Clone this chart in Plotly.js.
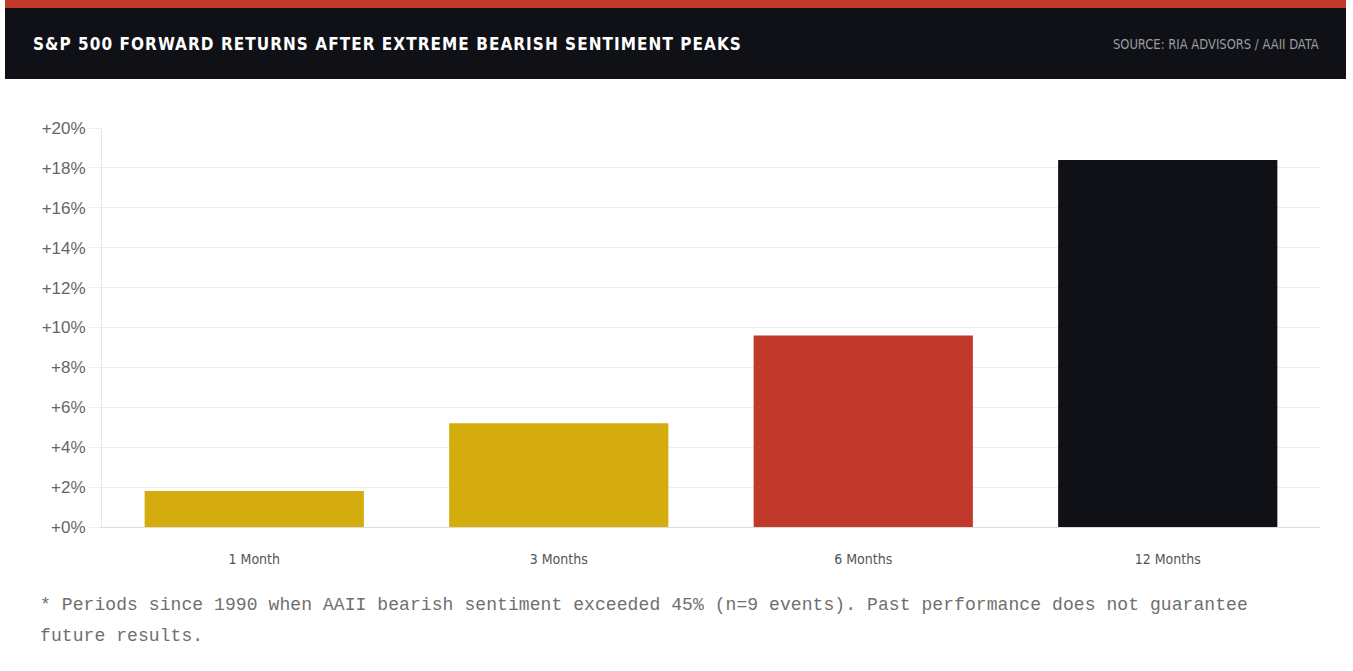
<!DOCTYPE html>
<html>
<head>
<meta charset="utf-8">
<script src="https://cdn.plot.ly/plotly-3.0.1.min.js"></script>
<style>
  html, body { margin: 0; padding: 0; background: #ffffff; }
  #wrap { position: relative; width: 1353px; height: 671px; overflow: hidden; background: #fff; }
  #chart { position: absolute; left: 0; top: 0; width: 1353px; height: 671px; }
  #stripe { position: absolute; left: 5px; top: 0; width: 1341px; height: 8px; background: #C0392B; }
  #header { position: absolute; left: 5px; top: 8px; width: 1341px; height: 71px; background: #0F1117; }
  #title { position: absolute; left: 28px; top: 0; height: 71px; line-height: 73px; color: #ffffff;
           font-family: "DejaVu Sans Condensed", "Liberation Sans Narrow", "DejaVu Sans", sans-serif;
           font-weight: bold; font-size: 17px; letter-spacing: 1.05px; white-space: nowrap; }
  #source { position: absolute; right: 27px; top: 0; height: 71px; line-height: 73px; color: #9a9ca0;
            font-family: "DejaVu Sans Condensed", sans-serif;
            font-size: 14px; white-space: nowrap; transform: scaleX(0.92); transform-origin: right center; }
  #note { position: absolute; left: 40px; top: 590px; width: 1270px; color: #6f6f6f;
          font-family: "Liberation Mono", "DejaVu Sans Mono", monospace; font-size: 18px; letter-spacing: 0.08px; line-height: 31px; }
</style>
</head>
<body>
<div id="wrap">
  <div id="chart"></div>
  <div id="stripe"></div>
  <div id="header">
    <div id="title">S&amp;P 500 FORWARD RETURNS AFTER EXTREME BEARISH SENTIMENT PEAKS</div>
    <div id="source">SOURCE: RIA ADVISORS / AAII DATA</div>
  </div>
  <div id="note">* Periods since 1990 when AAII bearish sentiment exceeded 45% (n=9 events). Past performance does not guarantee future results.</div>
</div>
<script>
const categories = ["1 Month", "3 Months", "6 Months", "12 Months"];
const returnsPct = [1.8, 5.2, 9.6, 18.4];
const barColors = ["#D4AC0D", "#D4AC0D", "#C0392B", "#0F1117"];
const yTickValues = [0, 2, 4, 6, 8, 10, 12, 14, 16, 18, 20];
const yTickLabels = ["+0%", "+2%", "+4%", "+6%", "+8%", "+10%", "+12%", "+14%", "+16%", "+18%", "+20%"];

const trace = {
  type: "bar",
  x: categories,
  y: returnsPct,
  marker: { color: barColors, line: { width: 0 } },
  hoverinfo: "skip"
};

const layout = {
  width: 1353,
  height: 671,
  margin: { l: 102, r: 33, t: 128, b: 144 },
  paper_bgcolor: "rgba(0,0,0,0)",
  plot_bgcolor: "#ffffff",
  showlegend: false,
  bargap: 0.28,
  xaxis: {
    type: "category",
    showgrid: false,
    showline: true,
    linecolor: "#dcdcdc",
    linewidth: 1,
    ticks: "",
    ticklabelstandoff: 19,
    tickfont: { family: "DejaVu Sans Condensed, sans-serif", size: 14, color: "#555555" },
    fixedrange: true
  },
  yaxis: {
    range: [0, 20],
    tickmode: "array",
    tickvals: yTickValues,
    ticktext: yTickLabels,
    showgrid: true,
    gridcolor: "#eeeeee",
    gridwidth: 1,
    zeroline: false,
    showline: true,
    linecolor: "#e6e6e6",
    linewidth: 1,
    ticks: "outside",
    ticklen: 12,
    tickcolor: "#eeeeee",
    tickwidth: 1,
    tickfont: { family: "Liberation Sans, Arial, sans-serif", size: 17, color: "#666666" },
    fixedrange: true
  }
};

Plotly.newPlot("chart", [trace], layout, { displayModeBar: false, staticPlot: true });
</script>
</body>
</html>
